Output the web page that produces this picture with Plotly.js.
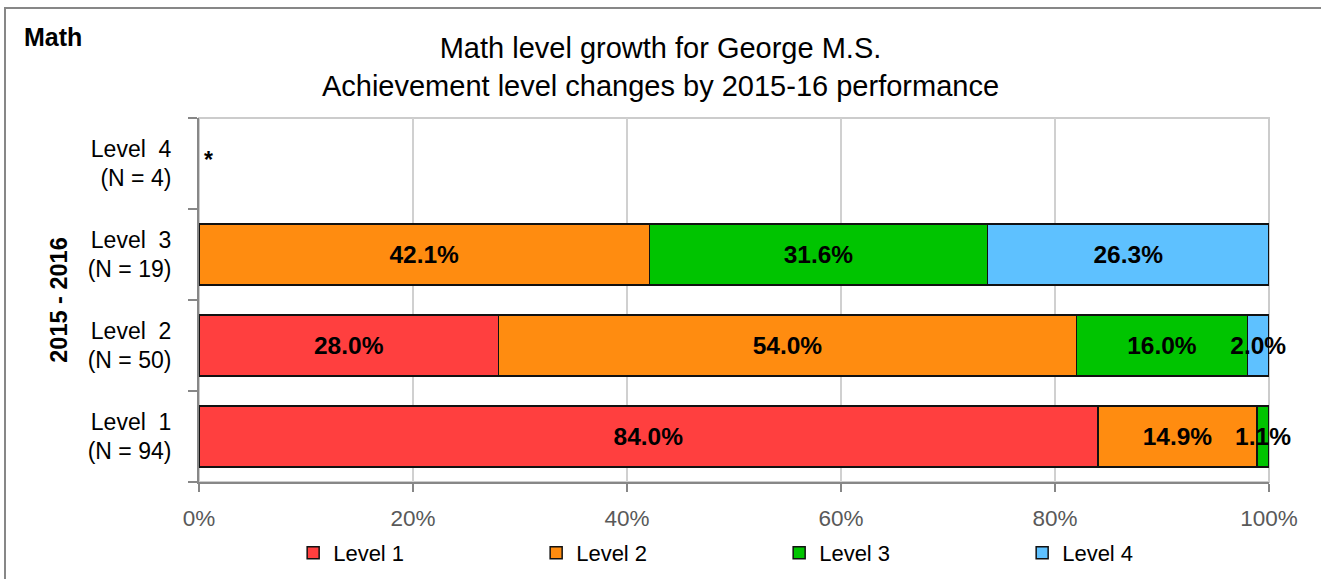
<!DOCTYPE html>
<html>
<head>
<meta charset="utf-8">
<script src="https://cdn.plot.ly/plotly-3.0.1.min.js"></script>
<style>
  html, body { margin: 0; padding: 0; background: #fff; }
  #wrap { position: relative; width: 1321px; height: 579px; overflow: hidden; }
  #chart { position: absolute; left: 0; top: 0; width: 1321px; height: 579px; }
  #frame { position: absolute; left: 4px; top: 7px; right: -4px; bottom: -4px;
           border-top: 2px solid #878787; border-left: 2px solid #878787; pointer-events: none; }
</style>
</head>
<body>
<div id="wrap">
  <div id="chart"></div>
  <div id="frame"></div>
</div>
<script>
// Rows (2015-16 level), bottom to top
const categories = ['Level 1', 'Level 2', 'Level 3', 'Level 4'];
const tickLabels = [
  'Level\u00a0\u00a01<br>(N = 94)',
  'Level\u00a0\u00a02<br>(N = 50)',
  'Level\u00a0\u00a03<br>(N = 19)',
  'Level\u00a0\u00a04<br>(N = 4)'
];
// Percent of students reaching each level in 2016-17 (null = none / suppressed)
const level1Values = [84.0, 28.0, null, null];
const level2Values = [14.9, 54.0, 42.1, null];
const level3Values = [1.1, 16.0, 31.6, null];
const level4Values = [null, 2.0, 26.3, null];
const seriesNames = ['Level 1', 'Level 2', 'Level 3', 'Level 4'];
const seriesColors = ['#FF3F3F', '#FF8C10', '#00C400', '#5EC1FF'];
const xTicks = [0, 20, 40, 60, 80, 100];
const xTickLabels = ['0%', '20%', '40%', '60%', '80%', '100%'];

const FONT = 'Liberation Sans, Arial, sans-serif';
const allValues = [level1Values, level2Values, level3Values, level4Values];

const traces = allValues.map((vals, i) => ({
  type: 'bar',
  orientation: 'h',
  name: seriesNames[i],
  y: categories,
  x: vals,
  text: vals.map(v => (v === null ? '' : '<b>' + v.toFixed(1) + '%</b>')),
  textposition: 'inside',
  insidetextanchor: 'middle',
  textangle: 0,
  constraintext: 'none',
  cliponaxis: false,
  textfont: { family: FONT, size: 24.5, color: '#000' },
  marker: { color: seriesColors[i], line: { color: '#111', width: 1.5 } },
  hoverinfo: 'skip'
}));

const layout = {
  width: 1321,
  height: 579,
  margin: { l: 199, r: 52, t: 118, b: 97 },
  barmode: 'stack',
  bargap: 0.33,
  paper_bgcolor: 'rgba(0,0,0,0)',
  plot_bgcolor: '#fff',
  font: { family: FONT, color: '#000' },
  title: {
    text: 'Math level growth for George M.S.<br>Achievement level changes by 2015-16 performance',
    x: 0.5, xref: 'container', xanchor: 'center',
    y: 0.899, yref: 'container', yanchor: 'top',
    font: { family: FONT, size: 29, color: '#000' }
  },
  xaxis: {
    range: [0, 100],
    tickvals: xTicks,
    ticktext: xTickLabels,
    showgrid: true,
    gridcolor: '#d0d0d0',
    gridwidth: 1.5,
    zeroline: false,
    showline: true,
    linecolor: '#878787',
    linewidth: 2,
    ticks: 'outside',
    ticklen: 8,
    tickwidth: 1.5,
    tickcolor: '#878787',
    ticklabelstandoff: 7,
    tickfont: { family: FONT, size: 22.5, color: '#595959' },
    fixedrange: true
  },
  yaxis: {
    type: 'category',
    categoryorder: 'array',
    categoryarray: categories,
    tickvals: categories,
    ticktext: tickLabels,
    tickson: 'boundaries',
    ticks: 'outside',
    ticklen: 9,
    tickwidth: 1.5,
    tickcolor: '#878787',
    showline: true,
    linecolor: '#878787',
    linewidth: 2,
    showgrid: false,
    zeroline: false,
    ticklabelstandoff: 21,
    tickfont: { family: FONT, size: 23, color: '#000' },
    title: {
      text: '<b>2015 - 2016</b>',
      standoff: 13,
      font: { family: FONT, size: 23.5, color: '#000' }
    },
    fixedrange: true
  },
  shapes: [{
    type: 'rect', xref: 'paper', yref: 'paper',
    x0: 0, x1: 1, y0: 0, y1: 1,
    line: { color: '#cccccc', width: 2 },
    layer: 'below'
  }],
  annotations: [
    {
      text: '<b>Math</b>', xref: 'paper', yref: 'paper',
      x: -0.1655, y: 1.2225, xanchor: 'left', yanchor: 'middle',
      showarrow: false, font: { family: FONT, size: 25, color: '#000' }
    },
    {
      text: '<b>*</b>', xref: 'x', yref: 'y',
      x: 0, y: 'Level 4', xanchor: 'left', yanchor: 'middle', xshift: 3, yshift: 4,
      showarrow: false, font: { family: FONT, size: 23, color: '#000' }
    }
  ],
  showlegend: true,
  legend: {
    orientation: 'h',
    xref: 'paper',
    x: 0.088, xanchor: 'left',
    yref: 'container',
    y: 0.045, yanchor: 'middle',
    entrywidth: 198,
    traceorder: 'normal',
    font: { family: FONT, size: 22, color: '#000' },
    bgcolor: 'rgba(0,0,0,0)'
  }
};

Plotly.newPlot('chart', traces, layout, { displayModeBar: false, staticPlot: true });
</script>
</body>
</html>
